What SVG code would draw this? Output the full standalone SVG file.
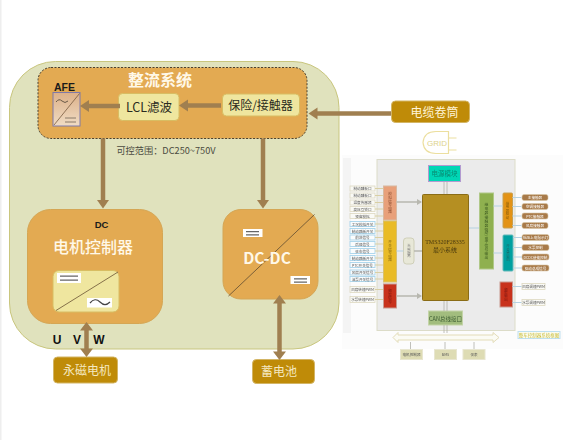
<svg xmlns="http://www.w3.org/2000/svg" width="569" height="440" viewBox="0 0 569 440">
<style>
text{font-family:"Noto Sans CJK SC","Liberation Sans",sans-serif;text-anchor:middle}
.lat{font-family:"Liberation Sans",Arial,sans-serif;font-weight:bold}
.conn{stroke:#a07f50;stroke-width:4.5;fill:none}
.head{fill:#a07f50}
.or{fill:#e3aa52;stroke:#d5a654}
.ye{fill:#efe69f;stroke:#d8bd62}
.gold{fill:#bf8b08;stroke:#d3b565}
.w{fill:#fff}
.bar{fill:#666}
.lw{fill:#fafaf6;stroke:#ddd8c0;stroke-width:.8}
.lb{fill:#fafcfd;stroke:#a8d4ec;stroke-width:.9}
.lr{fill:#a87a48;stroke:#d8c8a8;stroke-width:.6}
.s{font-size:3.6px;fill:#555}
.sw{font-size:3.6px;fill:#fff}
.ln{stroke:#d9cfa4;stroke-width:1}
.lnb{stroke:#b6d2e2;stroke-width:1.2;fill:none}
.gy{stroke:#b8b8b0;stroke-width:1.6;fill:none}
</style>
<defs>
<linearGradient id="afe" x1="0" y1="0" x2="0" y2="1"><stop offset="0" stop-color="#dcb088"/><stop offset="1" stop-color="#f0dcc4"/></linearGradient>
<filter id="soft" x="-5%" y="-5%" width="110%" height="110%"><feGaussianBlur stdDeviation="0.35"/></filter>
</defs>
<rect width="569" height="440" fill="#fff"/>
<rect x="0" y="0" width="1.5" height="440" fill="#eeeeee"/>

<g id="panel"><rect x="9.5" y="61.5" width="329.5" height="287.5" rx="46" fill="#e0e2bd" stroke="#c9c67e"/></g>

<g id="rectifier">
<rect x="38" y="67.5" width="269" height="71" rx="13" fill="#e3aa52" stroke="#4a4030" stroke-dasharray="2 1.5"/>
<text x="160" y="86" font-size="16" font-weight="700" fill="#fff8e8">整流系统</text>
</g>
<g id="afe">
<text class="lat" x="64.500" y="90.500" font-size="10.500" fill="#1a1a1a">AFE</text>
<rect x="53" y="92.500" width="27" height="33.500" fill="url(#afe)" stroke="#7f78a8"/>
<path d="M54 125 L79.500 93.500" stroke="#7a5c40" stroke-width=".8"/>
<path d="M56 102 q3 -4 6 -1 t6 0" stroke="#6a5a48" fill="none"/>
<path d="M65 118h11M65 122h11" stroke="#8a7a68"/>
</g>
<g id="lcl"><rect class="ye" x="118.500" y="93.500" width="60.500" height="27" rx="4"/><text x="149" y="111.500" font-size="12.500" fill="#2a2a20">LCL滤波</text></g>
<g id="protect"><rect class="ye" x="222.500" y="94" width="77" height="22" rx="4"/><text x="260.500" y="110" font-size="12" fill="#2a2a20">保险/接触器</text></g>
<text id="range" x="166" y="154" font-size="9.200" fill="#4a4a40">可控范围：DC250~750V</text>

<g id="motor-controller">
<rect class="or" x="27.500" y="209.500" width="135" height="114" rx="23"/>
<text class="lat" x="101.500" y="228" font-size="9.500" fill="#1a1a1a">DC</text>
<text x="93" y="252.500" font-size="16" font-weight="500" fill="#fff8e8">电机控制器</text>
<rect class="ye" x="53" y="270.500" width="66" height="41.500" rx="6"/>
<path d="M56 310.500 L118 272" stroke="#85714a"/>
<rect class="w" x="57" y="273" width="24" height="10"/><path class="bar" d="M60 275.500h18v1.300h-18zM60 279.500h18v1.300h-18z"/>
<rect class="w" x="87" y="298" width="25" height="9.500"/><path d="M90 303 q5 -6 10 -1 t10 0" stroke="#444" stroke-width="1.200" fill="none"/>
</g>
<g id="dcdc">
<rect class="or" x="223" y="209.500" width="95" height="89.500" rx="18"/>
<path d="M228.500 296 L314.500 214.500" stroke="#7a5f38"/>
<rect class="w" x="243" y="229" width="19.500" height="8"/><path class="bar" d="M246 231h13v1.200h-13zM246 234.300h13v1.200h-13z"/>
<rect class="w" x="290.500" y="276" width="19.500" height="8"/><path class="bar" d="M294 278.200h13v1.200h-13zM294 281.500h13v1.200h-13z"/>
<text x="267" y="264" font-size="15.500" font-weight="700" fill="#fff8e8">DC-DC</text>
</g>
<g id="uvw" font-size="12" fill="#111">
<text class="lat" x="57" y="344">U</text><text class="lat" x="77" y="344">V</text><text class="lat" x="99" y="344">W</text>
</g>
<g id="motor"><rect class="gold" x="53.500" y="357" width="64" height="26" rx="4"/><text x="87" y="374.500" font-size="12" fill="#f5e8c0">永磁电机</text></g>
<g id="battery"><rect class="gold" x="252.500" y="359.500" width="62" height="24" rx="4"/><text x="279" y="375.500" font-size="12" fill="#f5e8c0">蓄电池</text></g>
<g id="cable"><rect class="gold" x="391.500" y="101" width="78" height="21.500" rx="4"/><text x="434.500" y="116.500" font-size="12" fill="#fff5d8">电缆卷筒</text></g>
<g id="grid"><path d="M423 142.500 Q424 131.500 436 131.500 H448.500 V153.500 H436 Q424 153.500 423 142.500Z M448.500 138h8 M448.500 150h8" fill="#fff" stroke="#ecdf9f" stroke-width="1.200"/><text x="437" y="146" style="font-family:'Liberation Sans',sans-serif;font-size:8px;fill:#ddd28a">GRID</text></g>

<g id="connectors">
<path class="conn" d="M120 106H88"/><path class="head" d="M80 106l9-6v12z"/>
<path class="conn" d="M221 105.500H187"/><path class="head" d="M179 105.500l9-6v12z"/>
<path class="conn" d="M391 113.500H317"/><path class="head" d="M308.500 113.500l9-6v12z"/>
<path class="conn" d="M103 138.500V200"/><path class="head" d="M103 208.500l-6-8.500h12z"/>
<path class="conn" d="M263 138.500V200"/><path class="head" d="M263 208.500l-6-8.500h12z"/>
<path class="conn" d="M86.500 330V350"/><path class="head" d="M86.500 322l-6.500 8.500h13zM86.500 357l-6.500-8.500h13z"/>
<path class="conn" d="M279.500 303V352"/><path class="head" d="M279.500 295l-6.500 8.500h13zM279.500 360l-6.500-8.500h13z"/>
</g>

<g id="mcu-board" filter="url(#soft)">
<rect x="342" y="155" width="221" height="194" fill="#fcfcfc"/>
<rect x="343" y="158" width="8" height="175" fill="#f4f4f4"/>
<rect x="377" y="159.500" width="138" height="171" fill="#ebebeb" stroke="#dcdcc8"/>
<rect x="428.500" y="165.500" width="32" height="16" fill="#00d6b5" stroke="#b29ad0"/>
<text x="444.500" y="176" font-size="6.500" fill="#0a8a72">电源模块</text>
<rect x="422.500" y="194.500" width="46" height="106" rx="1" fill="#b58f20" stroke="#8a6c18"/>
<text x="445" y="244" font-size="6" fill="#4a3a10" style="font-family:'Liberation Serif',serif">TMS320F28335</text>
<text x="445" y="252" font-size="6" fill="#4a3a10">最小系统</text>
<rect x="383.500" y="186" width="13" height="34" fill="#e8a07a" stroke="#d8b8a0"/>
<text x="390" y="203" font-size="3.600" fill="#8a4a30" writing-mode="tb">模拟信号电路</text>
<rect x="383.500" y="221" width="13" height="61" fill="#e9bb25" stroke="#d8c070"/>
<text x="390" y="251" font-size="3.600" fill="#8a6a10" writing-mode="tb">开关信号电路</text>
<rect x="383.500" y="284" width="13" height="24" fill="#c8301a" stroke="#c89a90"/>
<text x="390" y="296" font-size="3.600" fill="#7a1a10" writing-mode="tb">频率信号</text>
<rect x="403.500" y="238" width="10.500" height="26" rx="3" fill="#e8e8d8" stroke="#cfcfb8"/>
<text x="409" y="251" font-size="3.400" fill="#777" writing-mode="tb">光电隔离</text>
<rect x="428.500" y="311" width="34" height="14" fill="#a2bd7e" stroke="#c4d4a8"/>
<text x="445.500" y="320.500" font-size="5.500" fill="#3a5a30">CAN总线接口</text>
<rect x="479.500" y="193" width="14" height="76" fill="#8fb04f" stroke="#b0c888"/>
<text x="486.500" y="231" font-size="3.800" fill="#3c5a20" writing-mode="tb">继电器/接触器驱动/电平信号输出</text>
<rect x="503" y="193" width="9.500" height="35" rx="1" fill="#e39312" stroke="#c8a050"/>
<text x="507.500" y="210.500" font-size="3.400" fill="#8a5a10" writing-mode="tb">继电器驱动</text>
<rect x="503" y="235" width="10" height="36" rx="1" fill="#06a0a0" stroke="#60b8b8"/>
<text x="508" y="253" font-size="3.400" fill="#0a6a6a" writing-mode="tb">开关量输出</text>
<rect x="500" y="282" width="12.500" height="25" fill="#c8301a" stroke="#c89a90"/>
<text x="506" y="294.500" font-size="3.400" fill="#7a1a10" writing-mode="tb">频率输出</text>

<g id="left-labels">
<rect class="lw" x="350" y="186" width="25" height="5"/><text class="s" x="362.500" y="190">制动踏板口</text>
<rect class="lw" x="350" y="193" width="25" height="5"/><text class="s" x="362.500" y="197">制动踏板口</text>
<rect class="lw" x="350" y="200" width="25" height="5"/><text class="s" x="362.500" y="204">温度传感器</text>
<rect class="lw" x="350" y="206.500" width="25" height="5"/><text class="s" x="362.500" y="210.500">高压互锁口</text>
<rect class="lw" x="350" y="213.500" width="25" height="5"/><text class="s" x="362.500" y="217.500">预留模拟</text>
<rect class="lb" x="350" y="221.500" width="25" height="5"/><text class="s" x="362.500" y="225.500">工况模拟开关</text>
<rect class="lb" x="350" y="228.500" width="25" height="5"/><text class="s" x="362.500" y="232.500">制动踏板开关</text>
<rect class="lb" x="350" y="235" width="25" height="5"/><text class="s" x="362.500" y="239">前进信号</text>
<rect class="lb" x="350" y="241.500" width="25" height="5"/><text class="s" x="362.500" y="245.500">后退信号</text>
<rect class="lb" x="350" y="248.500" width="25" height="5"/><text class="s" x="362.500" y="252.500">驻车信号</text>
<rect class="lb" x="350" y="255.500" width="25" height="5"/><text class="s" x="362.500" y="259.500">制动踏板开关</text>
<rect class="lb" x="350" y="262.500" width="25" height="5"/><text class="s" x="362.500" y="266.500">PTC开关信号</text>
<rect class="lb" x="350" y="270" width="25" height="5"/><text class="s" x="362.500" y="274">风扇开关信号</text>
<rect class="lb" x="350" y="276.500" width="25" height="5"/><text class="s" x="362.500" y="280.500">油泵开关信号</text>
<rect class="lw" x="350" y="286.500" width="25" height="6"/><text class="s" x="362.500" y="291">风扇转速PWM</text>
<rect class="lw" x="350" y="296.500" width="25" height="6"/><text class="s" x="362.500" y="301">水泵转速PWM</text>
<path class="ln" d="M375 188.500h8M375 195.500h8M375 202.500h8M375 209h8M375 216h8M375 224h8M375 231h8M375 237.500h8M375 244h8M375 251h8M375 258h8M375 265h8M375 272.500h8M375 279h8M375 289.500h8M375 299.500h8"/>
</g>
<g id="right-labels">
<rect class="lr" x="522" y="194.500" width="26" height="6" rx="2"/><text class="sw" x="535" y="199">主接触器</text>
<rect class="lr" x="522" y="203.500" width="26" height="6" rx="2"/><text class="sw" x="535" y="208">空调接触器</text>
<rect class="lr" x="522" y="213" width="26" height="6" rx="2"/><text class="sw" x="535" y="217.500">PTC接触器</text>
<rect class="lr" x="522" y="222.500" width="26" height="6" rx="2"/><text class="sw" x="535" y="227">风扇接触器</text>
<rect class="lr" x="522" y="234.500" width="27" height="6" rx="2"/><text class="sw" x="535.500" y="239">低压上电指示灯</text>
<rect class="lr" x="522" y="244.500" width="27" height="6" rx="2"/><text class="sw" x="535.500" y="249">水泵控制</text>
<rect class="lr" x="522" y="254" width="27" height="6" rx="2"/><text class="sw" x="535.500" y="258.500">DCDC使能控制</text>
<rect class="lr" x="522" y="265" width="27" height="6" rx="2"/><text class="sw" x="535.500" y="269.500">驱动总成信号</text>
<rect class="lw" x="522" y="283.500" width="23" height="6"/><text class="s" x="533.500" y="288">风扇调速PWM</text>
<rect class="lw" x="522" y="299.500" width="23" height="6"/><text class="s" x="533.500" y="304">水泵调速PWM</text>
<path class="lnb" d="M512.500 197.500h9M512.500 206.500h9M512.500 216h9M512.500 225.500h9M513 237.500h9M513 247.500h9M513 257h9M513 268h9M512.500 286.500h9M512.500 302.500h9"/>
</g>
<g id="internal-links">
<path class="gy" d="M396.500 202H421M414 251h8M396.500 296H421"/>
<path d="M417 199l5 3-5 3zM417 293l5 3-5 3z" fill="#b8b8b0"/>
<path class="lnb" d="M396.500 251h7M469 228h10M493.500 206h9M493.500 253h9" stroke-width="2"/>
<path d="M444 182v12M447 182v12M444 301v10M447 301v10M444 325v8M447 325v8M410.500 342v7M445 342v7M474 342v7" stroke="#b0b0a8" stroke-width=".8"/>
</g>
<path id="bus" d="M393 337.500l5-5v2.500H493v-2.500l6 5-6 5v-2.500H398v2.500z" fill="#fbfbf4" stroke="#e3dcb8"/>
<rect x="400.500" y="349.500" width="22" height="10" fill="#dedcb4" stroke="#e8e6d0"/><text class="s" x="411.500" y="356">电机控制器</text>
<rect x="434.500" y="349.500" width="22" height="10" fill="#dedcb4" stroke="#e8e6d0"/><text class="s" x="445.500" y="356">BMS</text>
<rect x="463" y="349.500" width="22" height="10" fill="#dedcb4" stroke="#e8e6d0"/><text class="s" x="474" y="356">仪表</text>
<rect x="518" y="331.500" width="42" height="7" fill="#fbfbf0" stroke="#bfe0f0"/><text x="539" y="337" font-size="4.500" fill="#c9be3a">整车控制器系统框图</text>
</g>
</svg>
